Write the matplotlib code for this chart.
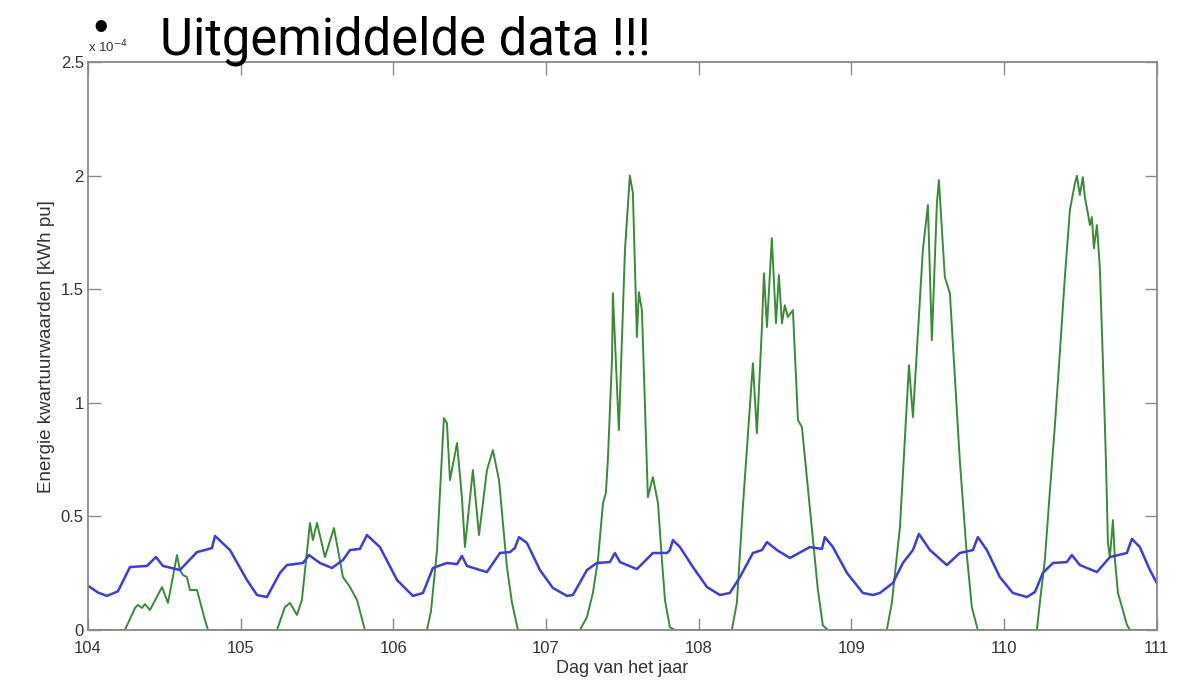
import matplotlib.pyplot as plt
from matplotlib.ticker import FuncFormatter, MultipleLocator
import numpy as np

# Averaged quarter-hour energy values over a week (units of 1e-4 kWh pu)
# Blue: consumption profile, green: PV production
blue_day = [104.000, 104.065, 104.124, 104.196, 104.275, 104.386, 104.445, 104.491, 104.602, 104.714,
            104.766, 104.812, 104.832, 104.930, 105.041, 105.107, 105.172, 105.257, 105.303, 105.408,
            105.447, 105.519, 105.598, 105.670, 105.716, 105.781, 105.827, 105.912, 106.024, 106.128,
            106.194, 106.259, 106.351, 106.417, 106.449, 106.482, 106.567, 106.613, 106.698, 106.764,
            106.796, 106.823, 106.875, 106.960, 107.045, 107.137, 107.176, 107.268, 107.333, 107.418,
            107.451, 107.484, 107.595, 107.700, 107.792, 107.811, 107.831, 107.877, 107.962, 108.054,
            108.139, 108.204, 108.270, 108.355, 108.414, 108.447, 108.512, 108.597, 108.728, 108.807,
            108.826, 108.879, 108.971, 109.075, 109.141, 109.187, 109.272, 109.337, 109.403, 109.442,
            109.514, 109.625, 109.710, 109.796, 109.828, 109.887, 109.972, 110.057, 110.149, 110.202,
            110.254, 110.320, 110.411, 110.444, 110.496, 110.608, 110.693, 110.804, 110.837, 110.889,
            110.955, 111.000]
blue_val = [0.195, 0.165, 0.150, 0.170, 0.277, 0.282, 0.321, 0.282, 0.264, 0.343,
            0.352, 0.361, 0.414, 0.352, 0.220, 0.154, 0.145, 0.251, 0.286, 0.295,
            0.330, 0.295, 0.273, 0.308, 0.352, 0.357, 0.418, 0.365, 0.220, 0.150,
            0.163, 0.273, 0.295, 0.290, 0.326, 0.282, 0.264, 0.255, 0.339, 0.343,
            0.361, 0.409, 0.383, 0.264, 0.185, 0.150, 0.154, 0.264, 0.295, 0.299,
            0.339, 0.299, 0.268, 0.339, 0.339, 0.352, 0.396, 0.365, 0.277, 0.189,
            0.154, 0.163, 0.233, 0.339, 0.352, 0.387, 0.352, 0.317, 0.365, 0.357,
            0.409, 0.365, 0.251, 0.163, 0.154, 0.163, 0.207, 0.295, 0.352, 0.423,
            0.352, 0.286, 0.339, 0.352, 0.409, 0.352, 0.233, 0.163, 0.145, 0.167,
            0.251, 0.295, 0.299, 0.330, 0.286, 0.255, 0.321, 0.339, 0.401, 0.365,
            0.264, 0.207]

green_day = [104.000, 104.242, 104.308, 104.327, 104.354, 104.373, 104.406, 104.485, 104.524, 104.583,
             104.602, 104.622, 104.648, 104.668, 104.714, 104.766, 104.786,
             105.238, 105.290, 105.323, 105.342, 105.369, 105.401, 105.454, 105.473, 105.500,
             105.552, 105.611, 105.670, 105.716, 105.762, 105.814,
             106.220, 106.246, 106.286, 106.331, 106.351, 106.371, 106.417, 106.449, 106.469, 106.521,
             106.561, 106.613, 106.652, 106.692, 106.744, 106.777, 106.816,
             107.222, 107.268, 107.307, 107.340, 107.373, 107.392, 107.405, 107.432, 107.438, 107.477,
             107.517, 107.549, 107.569, 107.595, 107.608, 107.628, 107.667, 107.700, 107.733, 107.759,
             107.779, 107.811, 107.844,
             108.217, 108.250, 108.289, 108.355, 108.381, 108.414, 108.427, 108.447, 108.479, 108.506,
             108.525, 108.545, 108.564, 108.584, 108.617, 108.650, 108.676, 108.748, 108.780, 108.813,
             108.846,
             109.232, 109.265, 109.318, 109.377, 109.403, 109.468, 109.501, 109.527, 109.560, 109.573,
             109.612, 109.645, 109.710, 109.756, 109.789, 109.828,
             110.215, 110.234, 110.267, 110.299, 110.332, 110.365, 110.398, 110.431, 110.464, 110.477,
             110.496, 110.516, 110.529, 110.549, 110.562, 110.575, 110.588, 110.608, 110.627, 110.647,
             110.667, 110.680, 110.693, 110.713, 110.726, 110.746, 110.805, 110.825, 111.000]
green_val = [0.000, 0.000, 0.097, 0.110, 0.097, 0.114, 0.088, 0.189, 0.119, 0.330,
             0.264, 0.242, 0.233, 0.176, 0.176, 0.044, 0.000,
             0.000, 0.101, 0.119, 0.097, 0.066, 0.132, 0.471, 0.396, 0.471,
             0.321, 0.449, 0.233, 0.189, 0.132, 0.000,
             0.000, 0.080, 0.352, 0.933, 0.911, 0.660, 0.823, 0.585, 0.365, 0.704,
             0.418, 0.704, 0.792, 0.660, 0.277, 0.120, 0.000,
             0.000, 0.057, 0.163, 0.308, 0.559, 0.603, 0.748, 1.188, 1.483, 0.880,
             1.673, 2.000, 1.923, 1.290, 1.488, 1.408, 0.585, 0.673, 0.559, 0.308,
             0.132, 0.012, 0.000,
             0.000, 0.120, 0.541, 1.175, 0.867, 1.334, 1.571, 1.334, 1.725, 1.351,
             1.563, 1.351, 1.430, 1.378, 1.408, 0.924, 0.893, 0.396, 0.180, 0.020,
             0.000,
             0.000, 0.120, 0.453, 1.166, 0.937, 1.673, 1.871, 1.276, 1.879, 1.981,
             1.554, 1.483, 0.748, 0.330, 0.100, 0.000,
             0.000, 0.119, 0.308, 0.603, 0.893, 1.219, 1.554, 1.849, 1.968, 2.000,
             1.915, 1.994, 1.906, 1.835, 1.783, 1.818, 1.681, 1.783, 1.598, 1.188,
             0.748, 0.383, 0.321, 0.484, 0.308, 0.163, 0.022, 0.000, 0.000]

SCALE = 1e-4

plt.rcParams['font.family'] = ['Liberation Sans', 'DejaVu Sans']

fig = plt.figure(figsize=(11.84, 6.84), dpi=100)
ax = fig.add_axes([0.0743, 0.079, 0.9027, 0.830])

ax.plot(green_day, np.array(green_val) * SCALE, color='#3a8a3a', lw=1.4,
        solid_joinstyle='round')
ax.plot(blue_day, np.array(blue_val) * SCALE, color='#3c3ce6', lw=1.8,
        solid_joinstyle='round')

ax.set_xlim(104, 111)
ax.set_ylim(0, 2.5 * SCALE)
ax.xaxis.set_major_locator(MultipleLocator(1))
ax.yaxis.set_major_locator(MultipleLocator(0.5 * SCALE))
ax.yaxis.set_major_formatter(FuncFormatter(lambda v, p: '%g' % round(v / SCALE, 2)))

for s in ax.spines.values():
    s.set_color('#8a8a8a')
    s.set_linewidth(1.3)
ax.tick_params(direction='in', length=9, width=1.0, color='#8a8a8a',
               top=True, right=True, labelsize=12, labelcolor='#333333')
ax.tick_params(axis='x', pad=8)
ax.tick_params(axis='y', pad=3)

ax.set_xlabel('Dag van het jaar', fontsize=13, color='#333333', labelpad=3)
ax.set_ylabel('Energie kwartuurwaarden [kWh pu]', fontsize=13.5, color='#333333',
              labelpad=4)

# exponent label in the top-left corner
fig.text(0.074, 0.924, r'x 10$^{-4}$', fontsize=9.5, color='#333333')

# slide heading
fig.text(0.0785, 0.957, '\u2022', fontsize=30, color='black', va='center')
fig.text(0.135, 0.9196, 'Uitgemiddelde data !!!', fontsize=36.5, color='black',
         va='baseline', family=['Roboto', 'DejaVu Sans'])

fig.savefig('out.png', dpi=100)
